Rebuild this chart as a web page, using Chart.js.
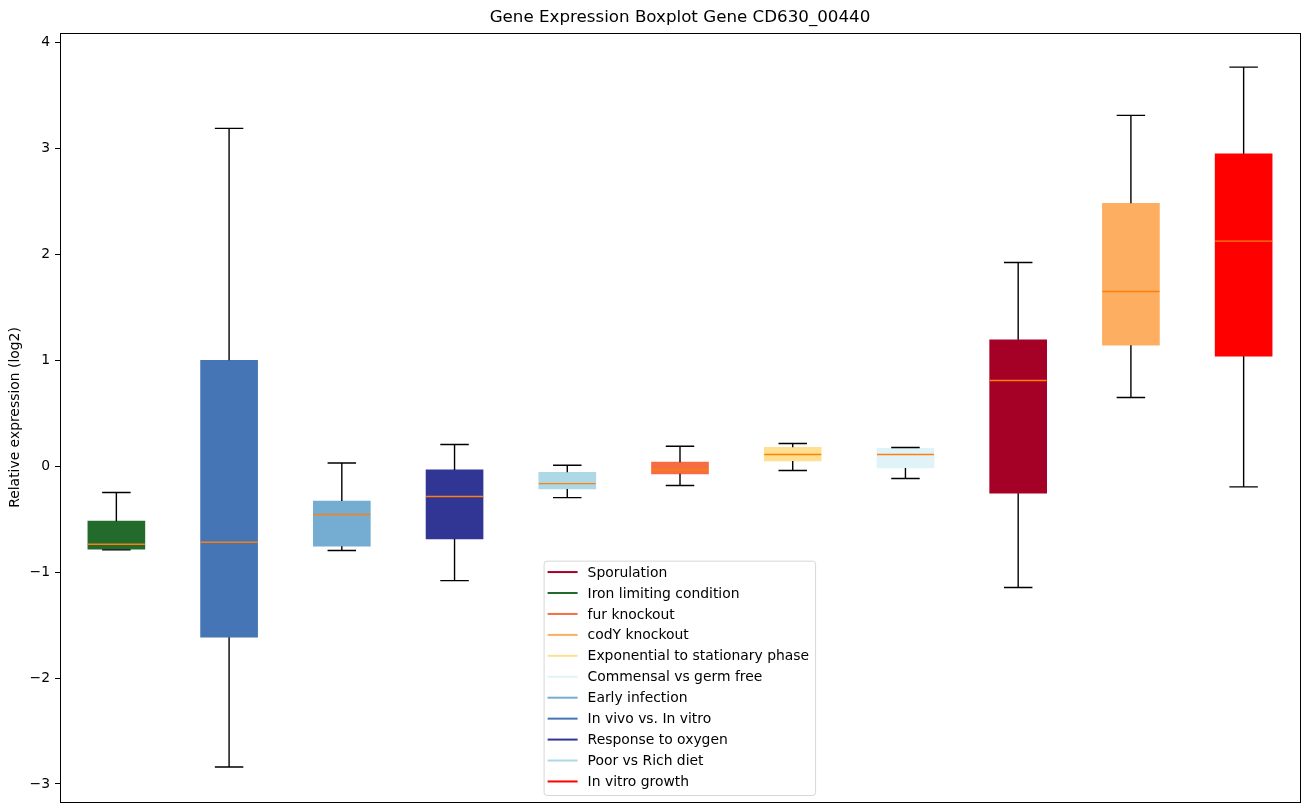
<!DOCTYPE html>
<html lang="en">
<head>
<meta charset="UTF-8">
<title>Gene Expression Boxplot Gene CD630_00440</title>
<script src="https://cdn.jsdelivr.net/npm/chart.js"></script>
<style>
    body { margin: 0; background: #fff; }
    #wrap { width: 1309px; height: 812px; }
</style>
</head>
<body>
<div id="wrap"><canvas id="boxChart" width="1309" height="812"></canvas></div>
<script>
// one box per condition, left to right
const categories = ['Iron limiting condition', 'In vivo vs. In vitro', 'Early infection', 'Response to oxygen',
    'Poor vs Rich diet', 'fur knockout', 'Exponential to stationary phase', 'Commensal vs germ free',
    'Sporulation', 'codY knockout', 'In vitro growth'];
const whiskerLow  = [-0.79, -2.84, -0.796, -1.08, -0.296, -0.182, -0.041, -0.116, -1.145, 0.649, -0.195];
const q1          = [-0.784, -1.615, -0.755, -0.686, -0.214, -0.072, 0.05, -0.016, -0.255, 1.143, 1.039];
const medians     = [-0.737, -0.718, -0.456, -0.286, -0.164, -0.031, 0.11, 0.11, 0.809, 1.65, 2.125];
const q3          = [-0.519, 1.0, -0.328, -0.035, -0.057, 0.038, 0.179, 0.17, 1.193, 2.483, 2.949];
const whiskerHigh = [-0.248, 3.19, 0.03, 0.205, 0.009, 0.189, 0.214, 0.177, 1.923, 3.312, 3.768];
const boxColors = ['#236b2d', '#4575b4', '#74add1', '#313695', '#add8e6', '#f46d43',
    '#fee090', '#e0f3f8', '#a50026', '#fdae61', '#ff0000'];

// legend order as in the figure
const legendLabels = ['Sporulation', 'Iron limiting condition', 'fur knockout', 'codY knockout',
    'Exponential to stationary phase', 'Commensal vs germ free', 'Early infection', 'In vivo vs. In vitro',
    'Response to oxygen', 'Poor vs Rich diet', 'In vitro growth'];
const legendColors = ['#a50026', '#236b2d', '#f46d43', '#fdae61', '#fee090', '#e0f3f8',
    '#74add1', '#4575b4', '#313695', '#add8e6', '#ff0000'];

const yTicks = [-3, -2, -1, 0, 1, 2, 3, 4];
const chartTitle = 'Gene Expression Boxplot Gene CD630_00440';
const FONT = "'DejaVu Sans', sans-serif";

const boxExtras = {
    id: 'boxExtras',
    afterDatasetsDraw(chart) {
        const ctx = chart.ctx;
        const y = chart.scales.y;
        const meta = chart.getDatasetMeta(0);
        ctx.save();
        meta.data.forEach((bar, i) => {
            const cx = bar.x;
            const half = bar.width / 2;
            const capHalf = half / 2;
            ctx.strokeStyle = '#000';
            ctx.lineWidth = 1.4;
            ctx.beginPath();
            ctx.moveTo(cx, y.getPixelForValue(q3[i]));
            ctx.lineTo(cx, y.getPixelForValue(whiskerHigh[i]));
            ctx.moveTo(cx, y.getPixelForValue(q1[i]));
            ctx.lineTo(cx, y.getPixelForValue(whiskerLow[i]));
            ctx.moveTo(cx - capHalf, y.getPixelForValue(whiskerHigh[i]));
            ctx.lineTo(cx + capHalf, y.getPixelForValue(whiskerHigh[i]));
            ctx.moveTo(cx - capHalf, y.getPixelForValue(whiskerLow[i]));
            ctx.lineTo(cx + capHalf, y.getPixelForValue(whiskerLow[i]));
            ctx.stroke();
            ctx.strokeStyle = '#ff7f0e';
            ctx.beginPath();
            ctx.moveTo(cx - half, y.getPixelForValue(medians[i]));
            ctx.lineTo(cx + half, y.getPixelForValue(medians[i]));
            ctx.stroke();
        });
        ctx.restore();
    },
    afterDraw(chart) {
        const ctx = chart.ctx;
        const a = chart.chartArea;
        ctx.save();
        // axes frame
        ctx.strokeStyle = '#000';
        ctx.lineWidth = 1;
        ctx.strokeRect(Math.round(a.left) + 0.5, Math.round(a.top) + 0.5,
            Math.round(a.right - a.left), Math.round(a.bottom - a.top));

        // title centred over the axes
        ctx.fillStyle = '#000';
        ctx.font = '16.7px ' + FONT;
        ctx.textAlign = 'center';
        ctx.textBaseline = 'middle';
        ctx.fillText(chartTitle, (a.left + a.right) / 2, a.top - 15);

        // legend, lower middle of the axes
        ctx.font = '13.9px ' + FONT;
        const textW = Math.max(...legendLabels.map(t => ctx.measureText(t).width));
        const rowH = 20.94;
        const w = 4 + 30 + 10 + textW + 6;
        const h = legendLabels.length * rowH + 4;
        const left = a.left + 0.39 * (a.right - a.left);
        const top = a.bottom - 7 - h;
        ctx.beginPath();
        ctx.roundRect(left + 0.5, top + 0.5, w, h, 3);
        ctx.fillStyle = 'rgba(255,255,255,0.8)';
        ctx.fill();
        ctx.strokeStyle = 'rgba(204,204,204,0.8)';
        ctx.stroke();
        ctx.textAlign = 'left';
        legendLabels.forEach((label, i) => {
            const ry = top + 11.4 + i * rowH;
            ctx.strokeStyle = legendColors[i];
            ctx.lineWidth = 2;
            ctx.beginPath();
            ctx.moveTo(left + 4, ry);
            ctx.lineTo(left + 34, ry);
            ctx.stroke();
            ctx.fillStyle = '#000';
            ctx.fillText(label, left + 44, ry + 1);
        });
        ctx.restore();
    }
};

new Chart(document.getElementById('boxChart').getContext('2d'), {
    type: 'bar',
    data: {
        labels: categories,
        datasets: [{
            label: 'IQR',
            data: q1.map((v, i) => [v, q3[i]]),
            backgroundColor: boxColors,
            borderWidth: 0,
            barThickness: 57
        }]
    },
    options: {
        responsive: false,
        animation: false,
        layout: { padding: { top: 33, right: 9, bottom: 10, left: 0 } },
        plugins: {
            legend: { display: false },
            title: { display: false },
            tooltip: { enabled: false }
        },
        scales: {
            x: {
                type: 'category',
                display: false,
                offset: true
            },
            y: {
                min: -3.17,
                max: 4.09,
                afterBuildTicks: scale => { scale.ticks = yTicks.map(v => ({ value: v })); },
                afterFit: scale => {
                    scale.width = 60;
                    scale.paddingTop = 0;
                    scale.paddingBottom = 0;
                },
                ticks: {
                    color: '#000',
                    padding: 5,
                    font: { family: FONT, size: 13.9 },
                    callback: v => (v < 0 ? '\u2212' + Math.abs(v) : String(v))
                },
                grid: {
                    drawOnChartArea: false,
                    drawTicks: true,
                    tickLength: 5,
                    tickColor: '#000',
                    tickWidth: 1
                },
                border: { display: true, color: '#000', width: 1 },
                title: {
                    display: true,
                    text: 'Relative expression (log2)',
                    color: '#000',
                    font: { family: FONT, size: 13.9 },
                    padding: { top: 7, bottom: 0 }
                }
            }
        }
    },
    plugins: [boxExtras]
});
</script>
</body>
</html>
